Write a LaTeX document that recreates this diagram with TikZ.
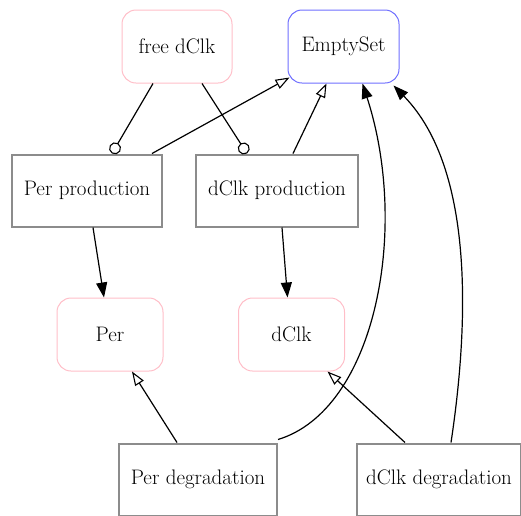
\documentclass[tikz,border=0pt]{standalone}
\usetikzlibrary{arrows.meta}
\definecolor{species}{RGB}{255,190,200}
\definecolor{sinkcol}{RGB}{110,110,255}
\definecolor{reactcol}{RGB}{140,140,140}
\begin{document}
\begin{tikzpicture}[x=1pt,y=-1pt,
  every node/.style={font=\fontsize{21}{25}\selectfont, inner sep=0pt, anchor=center},
  speciesbox/.style={draw=species, line width=1pt, rounded corners=14pt, minimum width=106pt, minimum height=73pt},
  sinkbox/.style={draw=sinkcol, line width=1pt, rounded corners=14pt, minimum width=111pt, minimum height=73pt},
  reactbox/.style={draw=reactcol, line width=2pt, minimum width=148pt, minimum height=72pt},
  edge/.style={line width=1.2pt, black},
  modifier/.style={edge, -{Circle[open, length=12pt, width=12pt, line width=1.1pt]}},
  reactant/.style={edge, -{Triangle[open, length=14pt, width=10pt, line width=1.1pt]}},
  product/.style={edge, -{Triangle[length=15pt, width=11pt]}}]
\useasboundingbox (0,0) rectangle (521,515);
% species and sink
\node[speciesbox, minimum width=110pt] (free) at (177,46.5) {free dClk};
\node[sinkbox] (empty) at (343.5,46.5) {EmptySet};
\node[speciesbox] (per) at (110,334.5) {Per};
\node[speciesbox] (dclk) at (291.5,334.5) {dClk};
% reactions
\node[reactbox, minimum width=150pt] (perprod) at (87,190.5) {Per production};
\node[reactbox, minimum width=162pt] (dclkprod) at (277,190.5) {dClk production};
\node[reactbox, minimum width=158pt] (perdeg) at (198,479.5) {Per degradation};
\node[reactbox, minimum width=164pt] (dclkdeg) at (439,479.5) {dClk degradation};
% modifiers
\draw[modifier] ([xshift=-24pt]free.south) -- ([xshift=25pt]perprod.north);
\draw[modifier] ([xshift=25pt]free.south) -- ([xshift=-30pt]dclkprod.north);
% reactants consumed into the sink
\draw[reactant] ([xshift=65pt]perprod.north) -- ([xshift=-54pt,yshift=6pt]empty.south);
\draw[reactant] ([xshift=16pt]dclkprod.north) -- ([xshift=-17pt]empty.south);
\draw[reactant] ([xshift=-21pt]perdeg.north) -- ([xshift=22pt]per.south);
\draw[reactant] ([xshift=-34pt]dclkdeg.north) -- ([xshift=36pt]dclk.south);
% products
\draw[product] ([xshift=6pt]perprod.south) -- ([xshift=-6pt]per.north);
\draw[product] ([xshift=5pt]dclkprod.south) -- ([xshift=-4pt]dclk.north);
\draw[product] ([yshift=3pt]perdeg.north east) .. controls (375,410) and (410,230) .. ([xshift=19pt]empty.south);
\draw[product] ([xshift=12pt]dclkdeg.north) .. controls (468,330) and (476,170) .. ([xshift=50pt,yshift=-2pt]empty.south);
\end{tikzpicture}
\end{document}
